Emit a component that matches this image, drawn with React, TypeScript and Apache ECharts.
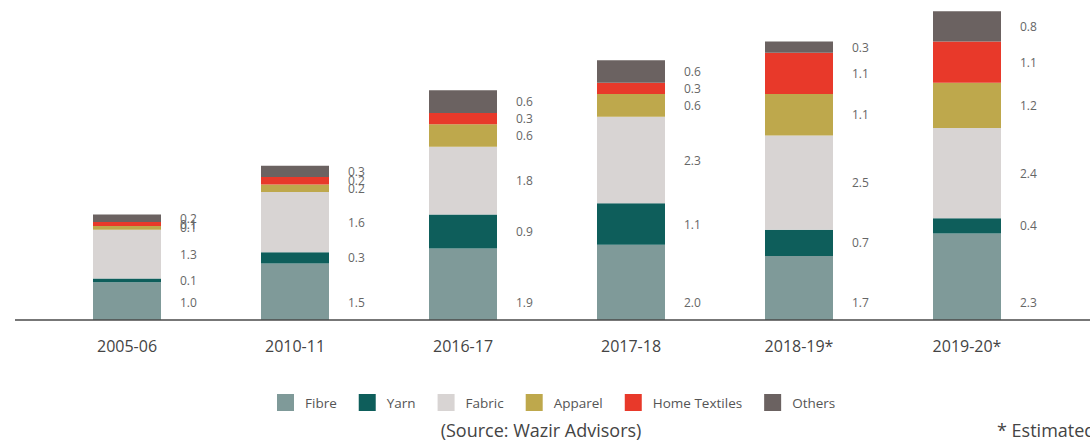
import React, { useEffect, useRef } from "react";
import * as echarts from "echarts";

const categories = ["2005-06", "2010-11", "2016-17", "2017-18", "2018-19*", "2019-20*"];
const fibre = [1.0, 1.5, 1.9, 2.0, 1.7, 2.3];
const yarn = [0.1, 0.3, 0.9, 1.1, 0.7, 0.4];
const fabric = [1.3, 1.6, 1.8, 2.3, 2.5, 2.4];
const apparel = [0.1, 0.2, 0.6, 0.6, 1.1, 1.2];
const homeTextiles = [0.1, 0.2, 0.3, 0.3, 1.1, 1.1];
const others = [0.2, 0.3, 0.6, 0.6, 0.3, 0.8];

const seriesNames = ["Fibre", "Yarn", "Fabric", "Apparel", "Home Textiles", "Others"];
const seriesData = [fibre, yarn, fabric, apparel, homeTextiles, others];
const seriesColors = ["#7f9a99", "#0e5e5b", "#d8d4d3", "#bea84c", "#e8392a", "#6b6261"];

const FONT = "'Open Sans', 'Noto Sans', sans-serif";

export default function App() {
  const ref = useRef<HTMLDivElement>(null);
  useEffect(() => {
    if (!ref.current) return;
    const chart = echarts.init(ref.current, undefined, { renderer: "svg" });
    const series = seriesNames.map((name, i) => ({
      name,
      type: "bar",
      stack: "total",
      barWidth: 68,
      data: seriesData[i],
      itemStyle: { color: seriesColors[i] },
      label: {
        show: true,
        formatter: (p: any) => Number(p.value).toFixed(1),
        fontSize: 12,
        fontFamily: FONT,
        color: "#666",
        ...(i === 0
          ? { position: ["100%", "100%"], offset: [19, -18], align: "left", verticalAlign: "middle" }
          : { position: "right", distance: 19 }),
      },
    }));
    chart.setOption({
      animation: false,
      grid: { left: 43, right: 39, top: 0, bottom: 120 },
      xAxis: {
        type: "category",
        data: categories,
        axisLine: { show: false },
        axisTick: { show: false },
        axisLabel: { margin: 18, fontSize: 16, color: "#444", fontFamily: FONT },
      },
      yAxis: {
        type: "value",
        min: 0,
        max: 8.5,
        show: false,
        splitLine: { show: false },
      },
      legend: {
        left: 277,
        top: 394,
        padding: 0,
        itemWidth: 17,
        itemHeight: 17,
        itemGap: 22,
        icon: "rect",
        data: seriesNames,
        textStyle: { fontSize: 13.5, color: "#555", fontFamily: FONT, padding: [0, 0, 0, 6] },
      },
      graphic: [
        {
          type: "line",
          shape: { x1: 15, y1: 320, x2: 1090, y2: 320 },
          style: { stroke: "#4a4a4a", lineWidth: 1.5 },
          z: 10,
        },
        {
          type: "text",
          x: 541,
          y: 430,
          style: {
            text: "(Source: Wazir Advisors)",
            fontSize: 18,
            fontFamily: FONT,
            fill: "#444",
            align: "center",
            verticalAlign: "middle",
            textAlign: "center",
            textVerticalAlign: "middle",
          },
        },
        {
          type: "text",
          x: 997,
          y: 430,
          style: {
            text: "* Estimated",
            fontSize: 18,
            fontFamily: FONT,
            fill: "#444",
            align: "left",
            verticalAlign: "middle",
            textAlign: "left",
            textVerticalAlign: "middle",
          },
        },
      ],
      series,
    });
    return () => chart.dispose();
  }, []);
  return (
    <div
      ref={ref}
      style={{ position: "absolute", left: 0, top: 0, width: 1090, height: 440 }}
    />
  );
}
